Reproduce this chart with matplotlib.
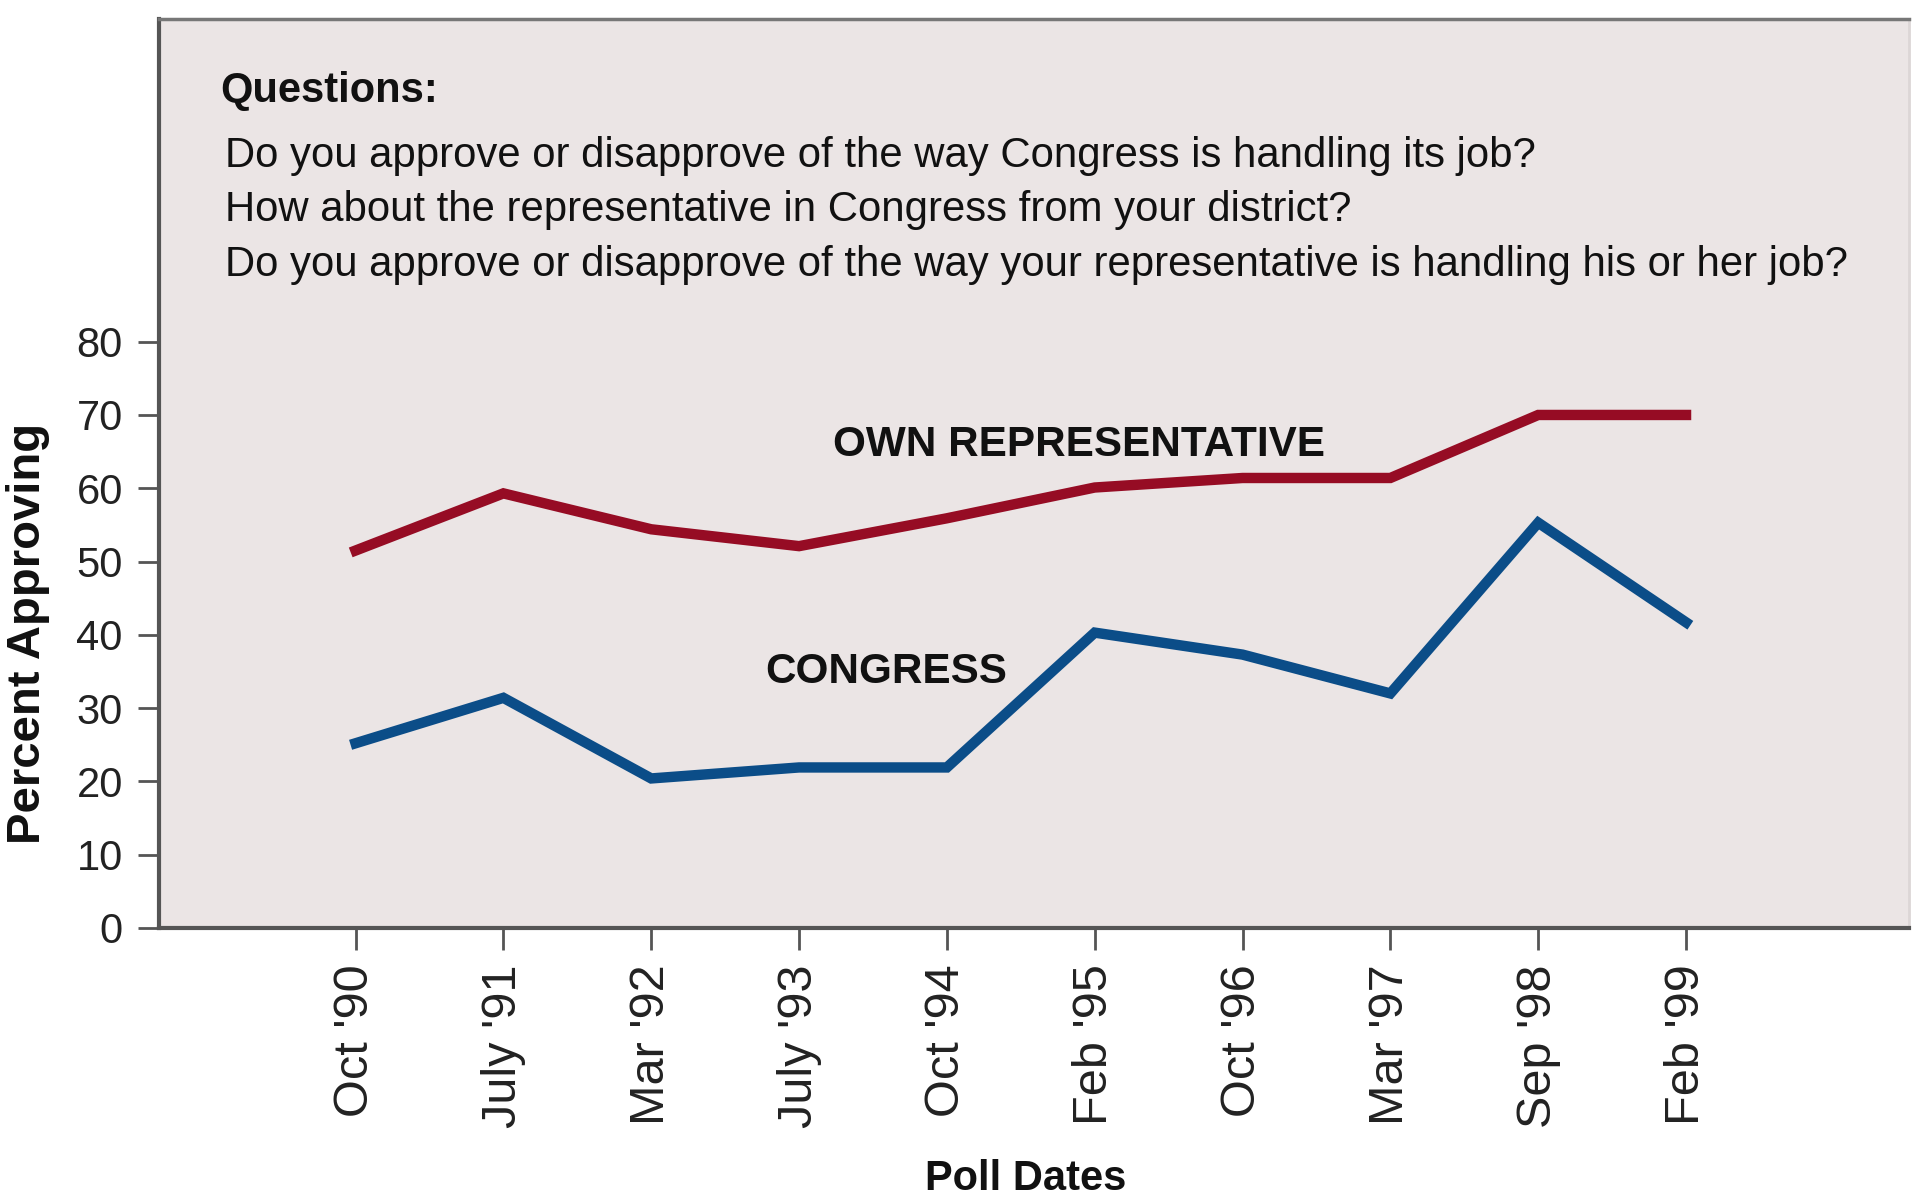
import matplotlib as mpl
mpl.use('Agg')
import matplotlib.pyplot as plt

plt.rcParams['font.family'] = ['Liberation Sans', 'DejaVu Sans']

dates = ["Oct '90", "July '91", "Mar '92", "July '93", "Oct '94",
         "Feb '95", "Oct '96", "Mar '97", "Sep '98", "Feb '99"]
own_rep = [51.5, 59.3, 54.4, 52.1, 55.9, 60.1, 61.4, 61.4, 70, 70]
congress = [25.2, 31.4, 20.4, 21.9, 21.9, 40.3, 37.3, 32, 55.3, 41.7]
questions = ["Do you approve or disapprove of the way Congress is handling its job?",
             "How about the representative in Congress from your district?",
             "Do you approve or disapprove of the way your representative is handling his or her job?"]
yticks = [0, 10, 20, 30, 40, 50, 60, 70, 80]

fig = plt.figure(figsize=(19.15, 12.02), dpi=100)
ax = fig.add_axes([0.083, 0.228, 0.914, 0.756])
ax.set_facecolor('#ebe5e5')

x = list(range(len(dates)))
ax.plot(x, own_rep, color='#960c24', lw=7.5, solid_joinstyle='miter')
ax.plot(x, congress, color='#0b4d88', lw=7.5, solid_joinstyle='miter')

ax.set_xlim(-1.33, 10.51)
ax.set_ylim(0, 124)
ax.set_xticks(x)
ax.set_xticklabels(dates, rotation=90, fontsize=35)
ax.set_yticks(yticks)
ax.set_yticklabels([str(v) for v in yticks], fontsize=30)
ax.tick_params(axis='y', length=15, width=2, color='#555555', pad=11, labelcolor='#222222')
ax.tick_params(axis='x', length=16, width=2, color='#555555', pad=10, labelcolor='#222222')

for s in ['left', 'bottom']:
    ax.spines[s].set_color('#555555')
    ax.spines[s].set_linewidth(3)
ax.spines['top'].set_color('#777777')
ax.spines['top'].set_linewidth(2.5)
ax.spines['right'].set_color('#dcd6d6')
ax.spines['right'].set_linewidth(2)

# axis titles placed directly on the figure
fig.text(28 / 1915, 1 - 633 / 1202, 'Percent Approving', rotation=90, fontsize=34,
         fontweight='bold', ha='center', va='center', color='#111111')
fig.text(1026 / 1915, 1 - 1179 / 1202, 'Poll Dates', fontsize=30,
         fontweight='bold', ha='center', va='center', color='#111111')

ax.text(3.23, 65.9, 'OWN REPRESENTATIVE', fontsize=30.4, fontweight='bold',
        va='center', ha='left', color='#111111')
ax.text(2.77, 34.9, 'CONGRESS', fontsize=30.4, fontweight='bold',
        va='center', ha='left', color='#111111')

trans = ax.get_yaxis_transform()
ax.text(0.035, 114.2, 'Questions:', transform=trans, fontsize=30, fontweight='bold',
        va='center', ha='left', color='#111111')
for i, q in enumerate(questions):
    ax.text(0.038, 105.4 - i * 7.45, q, transform=trans, fontsize=30.2,
            va='center', ha='left', color='#111111')

fig.savefig('out.png', dpi=100)
